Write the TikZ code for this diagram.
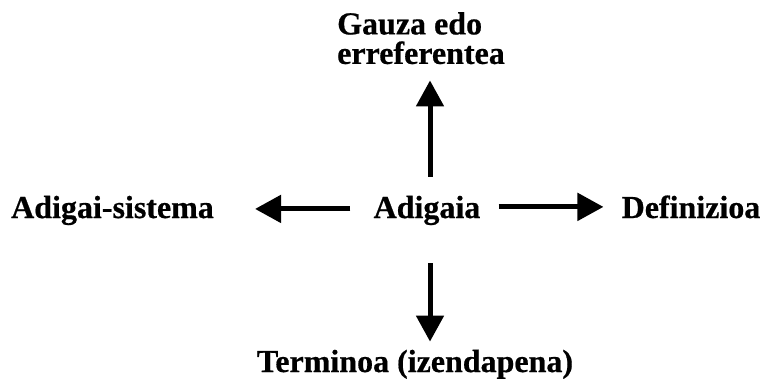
\documentclass[tikz,border=0pt]{standalone}
\usepackage{fontspec}
\setmainfont{Liberation Serif}[BoldFeatures={FakeBold=0.6}]
\usetikzlibrary{arrows.meta}
\begin{document}
\begin{tikzpicture}[
	x=1pt, y=-1pt,
	lbl/.style = {inner sep=0pt, font=\fontsize{32}{29.5}\selectfont\bfseries},
	arr/.style = {draw, line width=5pt, -{Triangle[length=26pt,width=27pt]}},
	]
	\useasboundingbox (0,0) rectangle (762,385);
	\node[lbl, anchor=base] (adigaia) at (427,218) {Adigaia};
	\node[lbl, anchor=base] (sistema) at (112.5,218) {Adigai-sistema};
	\node[lbl, anchor=base] (definizioa) at (691,218) {Definizioa};
	\node[lbl, anchor=base] (terminoa) at (415,372) {Terminoa (izendapena)};
	\node[lbl, anchor=north west, align=left] (gauza) at (337,12) {Gauza edo\\erreferentea};
	\draw[arr, shorten <=19pt, shorten >=16pt] ([xshift=3pt]adigaia.north) -- ([xshift=3pt]adigaia.north |- gauza.south);
	\draw[arr, shorten <=23pt, shorten >=41pt] ([yshift=1.5pt]adigaia.west) -- ([yshift=1.5pt]sistema.east |- adigaia.west);
	\draw[arr, shorten <=18pt, shorten >=18pt] (adigaia.east |- definizioa.west) -- (definizioa.west);
	\draw[arr, shorten <=38pt, shorten >=8pt] ([xshift=3pt]adigaia.south) -- ([xshift=3pt]adigaia.south |- terminoa.north);
\end{tikzpicture}
\end{document}
